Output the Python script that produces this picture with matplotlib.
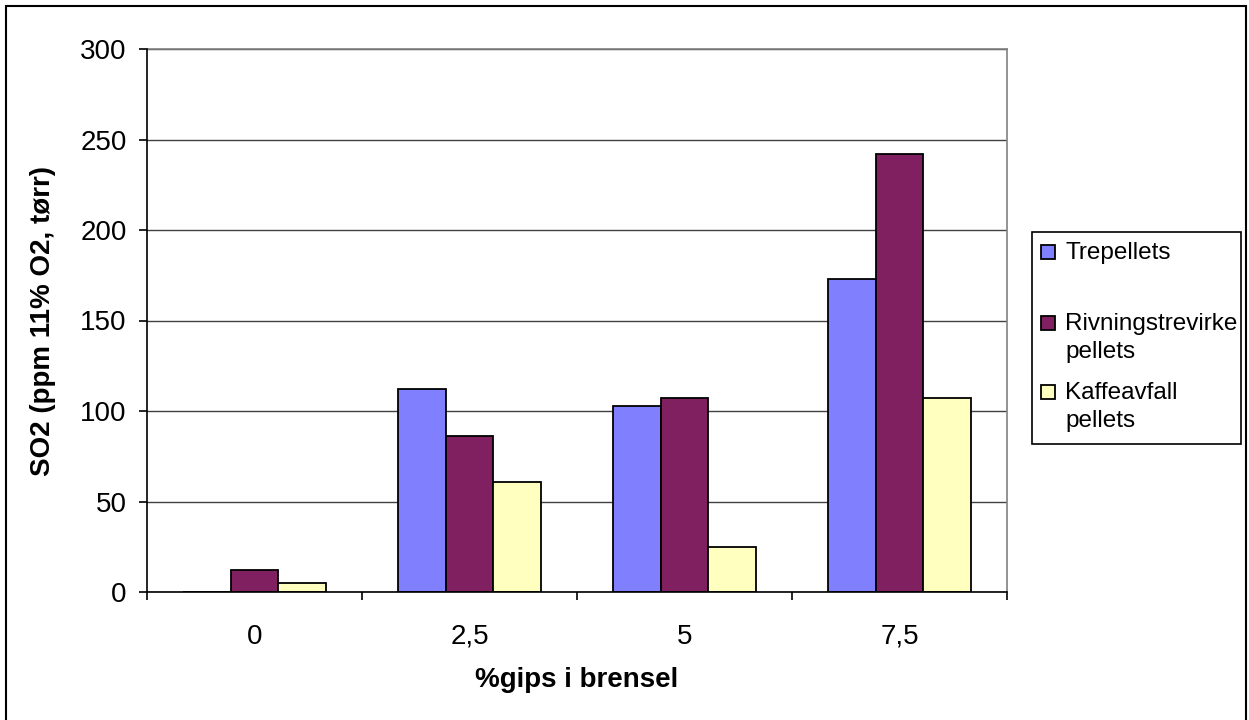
import numpy as np
import matplotlib
matplotlib.use('Agg')
import matplotlib.pyplot as plt
from matplotlib.patches import Rectangle

plt.rcParams['font.family'] = ['Liberation Sans', 'DejaVu Sans']

categories = ['0', '2,5', '5', '7,5']
series = ['Trepellets', 'Rivningstrevirke\npellets', 'Kaffeavfall\npellets']
trepellets = [0, 112, 103, 173]
rivning = [12, 86, 107, 242]
kaffe = [5, 61, 25, 107]
colors = ['#8080ff', '#802060', '#ffffc0']

W, H = 1249, 720
fig = plt.figure(figsize=(W / 100, H / 100), dpi=100)
ax = fig.add_axes([147 / W, (H - 592) / H, 860 / W, 543 / H])

x = np.arange(len(categories))
width = 0.222
for i, (vals, c) in enumerate(zip([trepellets, rivning, kaffe], colors)):
    ax.bar(x + (i - 1) * width, vals, width, color=c, edgecolor='black',
           linewidth=1.3, zorder=3)

ax.set_xlim(-0.5, len(categories) - 0.5)
ax.set_ylim(0, 300)
ax.set_yticks(np.arange(0, 301, 50))
ax.yaxis.grid(True, color='#404040', linewidth=1)
ax.set_axisbelow(True)

# ticks between groups, labels at group centres
ax.set_xticks(np.arange(len(categories) + 1) - 0.5)
ax.set_xticklabels([])
ax.set_xticks(x, minor=True)
ax.set_xticklabels(categories, minor=True)
ax.tick_params(axis='x', which='major', direction='out', length=6, width=1.2)
ax.tick_params(axis='x', which='minor', length=0, pad=23, labelsize=20)
ax.tick_params(axis='y', direction='out', length=5.5, width=1.2, pad=9, labelsize=20)

for s in ['left', 'bottom']:
    ax.spines[s].set_color('black')
    ax.spines[s].set_linewidth(1.2)
    ax.spines[s].set_zorder(4)
for s in ['top', 'right']:
    ax.spines[s].set_color('#808080')
    ax.spines[s].set_linewidth(1.2)

fig.text(577 / W, 1 - 680 / H, '%gips i brensel', fontsize=20,
         fontweight='bold', ha='center', va='center')
fig.text(43 / W, 1 - 321 / H, 'SO2 (ppm 11% O2, tørr)', fontsize=20,
         fontweight='bold', ha='center', va='center', rotation=90)

# legend box drawn by hand so handles line up with the first text line
fig.patches.append(Rectangle((1032 / W, 1 - 444 / H), 209 / W, 212 / H,
                             transform=fig.transFigure, fill=False,
                             edgecolor='black', linewidth=1.2))
baselines = [259, 330, 399]
for name, c, b in zip(series, colors, baselines):
    fig.patches.append(Rectangle((1041 / W, 1 - b / H), 14 / W, 14 / H,
                                 transform=fig.transFigure, facecolor=c,
                                 edgecolor='black', linewidth=1.3))
    for k, line in enumerate(name.split('\n')):
        fig.text(1065 / W, 1 - (b + 28 * k) / H, line, fontsize=17.5,
                 ha='left', va='baseline')

# outer chart border
fig.patches.append(Rectangle((6 / W, -0.05), 1240 / W, (H - 6) / H + 0.05,
                             transform=fig.transFigure, fill=False,
                             edgecolor='black', linewidth=1.5))

fig.savefig('out.png', dpi=100)
